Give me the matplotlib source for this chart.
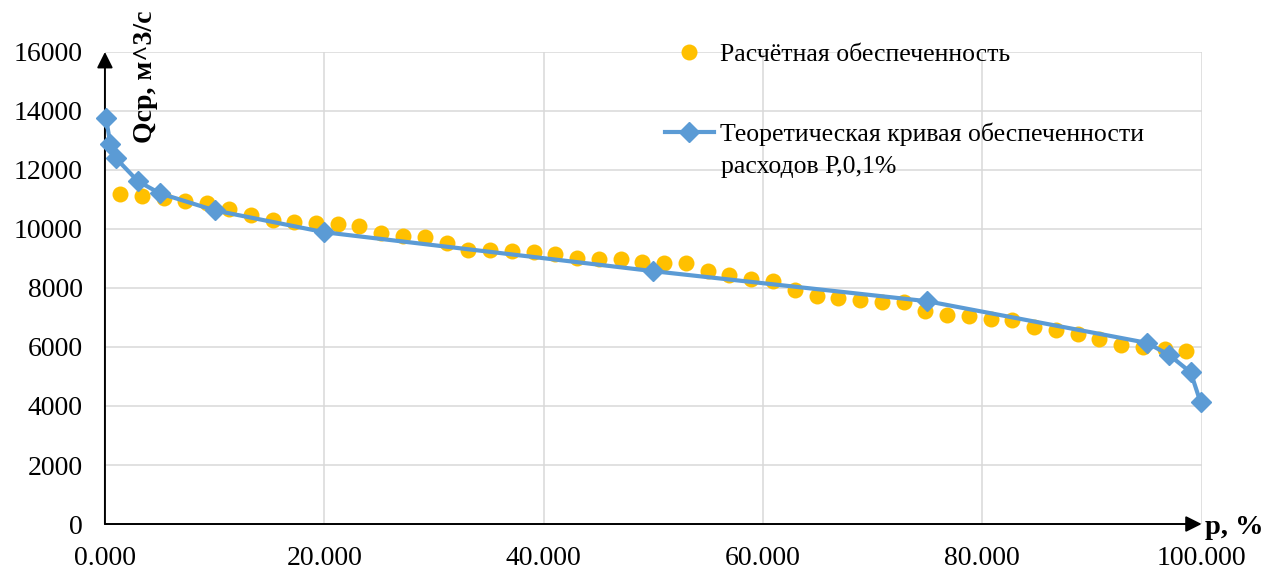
import matplotlib.pyplot as plt
import numpy as np

plt.rcParams['font.family'] = ['Liberation Serif', 'DejaVu Serif']

# empirical exceedance probability, %, and discharge
p_emp = [1.39, 3.37, 5.36, 7.34, 9.33, 11.31, 13.29, 15.28, 17.26, 19.25,
         21.23, 23.21, 25.20, 27.18, 29.17, 31.15, 33.13, 35.12, 37.10, 39.09,
         41.07, 43.06, 45.04, 47.02, 49.01, 50.99, 52.98, 54.96, 56.94, 58.93,
         60.91, 62.90, 64.88, 66.87, 68.85, 70.83, 72.82, 74.80, 76.79, 78.77,
         80.75, 82.74, 84.72, 86.71, 88.69, 90.67, 92.66, 94.64, 96.63, 98.61]
q_emp = [11195, 11114, 11059, 10934, 10890, 10662, 10458, 10289, 10244, 10210,
         10153, 10095, 9871, 9756, 9735, 9531, 9304, 9280, 9246, 9212,
         9158, 9022, 8988, 8988, 8873, 8852, 8852, 8591, 8445, 8319,
         8228, 7946, 7742, 7664, 7606, 7538, 7514, 7233, 7087, 7039,
         6961, 6927, 6679, 6564, 6428, 6272, 6054, 6000, 5942, 5874]

# theoretical curve
p_theo = [0.1, 0.5, 1, 3, 5, 10, 20, 50, 75, 95, 97, 99, 99.9]
q_theo = [13750, 12870, 12400, 11620, 11210, 10630, 9890, 8570, 7550, 6140, 5740, 5140, 4120]

x_ticks = [0, 20, 40, 60, 80, 100]
y_ticks = [0, 2000, 4000, 6000, 8000, 10000, 12000, 14000, 16000]

fig = plt.figure(figsize=(12.75, 5.71), dpi=100)
ax = fig.add_axes([0.0823, 0.0823, 0.8602, 0.8267])

fs = 18.5
ax.plot(p_emp, q_emp, 'o', color='#FFC000', ms=11.5, mec='none', ls='none',
        label='Расчётная обеспеченность', zorder=3)
ax.plot(p_theo, q_theo, '-D', color='#5B9BD5', lw=3.0, ms=10, mec='#5B9BD5',
        label='Теоретическая кривая обеспеченности', zorder=4, clip_on=False)

ax.set_xlim(0, 100)
ax.set_ylim(0, 16000)
ax.set_xticks(x_ticks)
ax.set_xticklabels([f'{v:.3f}' for v in x_ticks])
ax.set_yticks(y_ticks)
ax.set_yticklabels([str(v) for v in y_ticks])
ax.tick_params(length=0, labelsize=20)
ax.tick_params(axis='y', pad=16)
ax.tick_params(axis='x', pad=16)
ax.grid(True, color='#d9d9d9', lw=1.1)
ax.set_axisbelow(True)
for s in ax.spines.values():
    s.set_visible(False)

# axes with arrows
arrow = dict(arrowstyle='-|>', color='k', lw=1.4, mutation_scale=24,
             shrinkA=0, shrinkB=0)
ax.annotate('', xy=(0, 1), xytext=(0, 0), xycoords='axes fraction', arrowprops=arrow)
ax.annotate('', xy=(1, 0), xytext=(0, 0), xycoords='axes fraction', arrowprops=arrow)

fig.text(146 / 1275, 1 - 77 / 571, 'Qср, м^3/с', rotation=90, ha='center',
         va='center', fontsize=20, fontweight='bold')
fig.text(1205 / 1275, 1 - 527 / 571, 'p, %', ha='left', va='center',
         fontsize=20.5, fontweight='bold')

leg = ax.legend(loc='upper left', bbox_to_anchor=(665 / 1275, 1 - 43 / 571),
                bbox_transform=fig.transFigure, frameon=False, fontsize=fs,
                labelspacing=2.2, handlelength=1.9, handletextpad=0.25,
                borderaxespad=0, borderpad=0)
fig.text(721 / 1275, 1 - 167 / 571, 'расходов Р,0,1%', ha='left', va='center',
         fontsize=fs)

fig.savefig('out.png', dpi=100)
